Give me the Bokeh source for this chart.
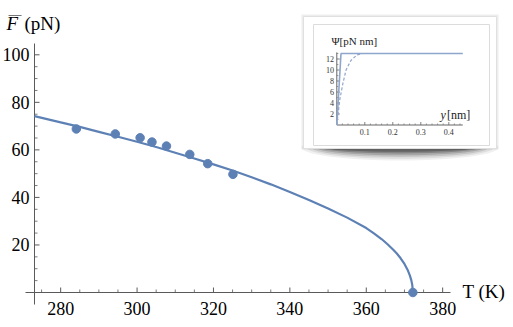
from bokeh.plotting import figure
from bokeh.models import Range1d
from bokeh.embed import file_html
from bokeh.resources import INLINE
from bokeh.core.properties import value

# ---------------- data ----------------
temps = [284.1, 294.3, 300.8, 303.9, 307.7, 313.8, 318.5, 325.1, 372.2]
forces = [68.8, 66.7, 65.1, 63.3, 61.6, 58.1, 54.2, 49.7, 0.0]

curve_T = [273.15, 280.0, 285.0, 290.0, 295.0, 300.0, 305.0, 310.0, 315.0,
           320.0, 325.0, 330.0, 335.0, 340.0, 345.0, 350.0, 355.0, 360.0,
           362.0, 364.0, 365.5, 367.0, 368.0, 369.0, 370.0, 370.8, 371.4,
           371.8, 372.05, 372.2]
curve_F = [74.2, 71.6, 69.7, 67.6, 65.5, 63.4, 61.2, 58.8, 56.4,
           53.9, 51.3, 48.5, 45.5, 42.3, 38.9, 35.3, 31.5, 27.1,
           24.9, 22.5, 20.4, 18.1, 16.4, 14.4, 12.0, 9.6, 7.2,
           5.1, 3.1, 0.0]

x_ticks = [280, 300, 320, 340, 360, 380]
x_minor = [275, 285, 290, 295, 305, 310, 315, 325, 330, 335, 345, 350, 355,
           365, 370, 375]
y_ticks = [20, 40, 60, 80, 100]
y_minor = [5, 10, 15, 25, 30, 35, 45, 50, 55, 65, 70, 75, 85, 90, 95]

inset_solid_y = [0.0, 0.015, 0.45]
inset_solid_psi = [0.0, 13.0, 13.0]
inset_dash_y = [0.0, 0.011, 0.022, 0.033, 0.05, 0.072, 0.094, 0.12]
inset_dash_psi = [0.0, 4.7, 7.6, 10.0, 11.7, 12.75, 13.0, 13.0]
inset_x_ticks = [0.1, 0.2, 0.3, 0.4]
inset_x_minor = [0.02, 0.04, 0.06, 0.08, 0.12, 0.14, 0.16, 0.18, 0.22, 0.24,
                 0.26, 0.28, 0.32, 0.34, 0.36, 0.38, 0.42, 0.44]
inset_y_ticks = [2, 4, 6, 8, 10, 12]
inset_y_minor = [1, 3, 5, 7, 9, 11, 13]

# ---------------- layout constants (pixels) ----------------
W, H = 512, 326
AXL, AXB = 34, 292          # pixel position of the main axes origin
KX, KY = 3.82, 2.377        # px per K, px per pN
T0 = 273.15
IX0, IKX, IY0, IKY = 336.3, 280.0, 124.5, 5.5   # inset mapping

BLUE = "#5E81B5"
INSET_BLUE = "#8FA6CC"
AX = "#5a5a5a"
SERIF = "Liberation Serif"


def mx(px):
    return T0 + (px - AXL) / KX


def my(py):
    return (AXB - py) / KY


def ix(px):
    return (px - IX0) / IKX


def iy(py):
    return (IY0 - py) / IKY


p = figure(width=W, height=H,
           x_range=Range1d(mx(0), mx(W)), y_range=Range1d(my(H), my(0)),
           x_axis_location=None, y_axis_location=None,
           output_backend="svg", toolbar_location=None,
           min_border_left=0, min_border_right=0,
           min_border_top=0, min_border_bottom=0)
p.extra_x_ranges = {"ix": Range1d(ix(0), ix(W))}
p.extra_y_ranges = {"iy": Range1d(iy(H), iy(0))}
p.outline_line_color = None
p.xgrid.visible = False
p.ygrid.visible = False
p.background_fill_color = "white"
p.border_fill_color = "white"

# ---------------- main axes (Mathematica style, crossing at origin) ----------
p.segment(x0=[mx(25), T0], y0=[0, my(304)], x1=[mx(450), T0], y1=[0, my(43)],
          line_color=AX, line_width=1)
p.segment(x0=x_ticks, y0=[0] * len(x_ticks), x1=x_ticks,
          y1=[5 / KY] * len(x_ticks), line_color=AX, line_width=1)
p.segment(x0=x_minor, y0=[0] * len(x_minor), x1=x_minor,
          y1=[3 / KY] * len(x_minor), line_color=AX, line_width=0.8)
p.segment(x0=[T0] * len(y_ticks), y0=y_ticks, x1=[T0 + 5 / KX] * len(y_ticks),
          y1=y_ticks, line_color=AX, line_width=1)
p.segment(x0=[T0] * len(y_minor), y0=y_minor, x1=[T0 + 3 / KX] * len(y_minor),
          y1=y_minor, line_color=AX, line_width=0.8)
p.text(x=x_ticks, y=[my(308)] * len(x_ticks), text=[str(t) for t in x_ticks],
       text_align="center", text_baseline="middle", text_font=value(SERIF),
       text_font_size="18px", text_color="black")
p.text(x=[mx(29)] * len(y_ticks), y=y_ticks, text=[str(t) for t in y_ticks],
       text_align="right", text_baseline="middle", text_font=value(SERIF),
       text_font_size="18px", text_color="black")

# axis labels
p.text(x=[mx(462)], y=[my(291)], text=["T (K)"], text_align="left",
       text_baseline="middle", text_font=value(SERIF),
       text_font_size="19px", text_color="black")
p.text(x=[mx(6)], y=[my(23)], text=["F"], text_align="left",
       text_baseline="middle", text_font=value(SERIF),
       text_font_style="italic", text_font_size="19px", text_color="black")
p.text(x=[mx(8)], y=[my(13)], text=["\u2014"], text_align="left",
       text_baseline="middle", text_font=value(SERIF),
       text_font_size="13px", text_color="black")
p.text(x=[mx(24)], y=[my(23)], text=["(pN)"], text_align="left",
       text_baseline="middle", text_font=value(SERIF),
       text_font_size="19px", text_color="black")

# ---------------- inset box ----------------
R = dict(x_range_name="ix", y_range_name="iy")
bx0, bx1, by0, by1 = 303, 496, 16, 148
for k, a in enumerate([0.06, 0.08, 0.11, 0.15, 0.2, 0.25]):
    p.ellipse(x=[ix((bx0 + bx1) / 2)], y=[iy(by1 - 1)],
              width=[(bx1 - bx0 + 4 - 10 * k) / IKX],
              height=[(26 - 3.5 * k) / IKY],
              fill_color="black", fill_alpha=a, line_color=None, **R)
p.quad(left=[ix(bx0 - 2)], right=[ix(bx1 + 2)], top=[iy(by0 - 2)],
       bottom=[iy(by1 + 1)], fill_color="black", fill_alpha=0.07,
       line_color=None, **R)
p.quad(left=[ix(bx0)], right=[ix(bx1)], top=[iy(by0)], bottom=[iy(by1)],
       fill_color="white", line_color="#e0e0e0", line_width=1, **R)
p.quad(left=[ix(313)], right=[ix(489)], top=[iy(24)], bottom=[iy(145)],
       fill_color="white", line_color="#dcdcdc", line_width=1, **R)

# inset axes
IAX = "#666666"
p.segment(x0=[0, 0], y0=[0, 0], x1=[max(inset_solid_y), 0], y1=[0, 13.2],
          line_color=IAX, line_width=1, **R)
p.segment(x0=inset_x_ticks, y0=[0] * len(inset_x_ticks), x1=inset_x_ticks,
          y1=[3 / IKY] * len(inset_x_ticks), line_color=IAX,
          line_width=0.8, **R)
p.segment(x0=inset_x_minor, y0=[0] * len(inset_x_minor), x1=inset_x_minor,
          y1=[1.6 / IKY] * len(inset_x_minor), line_color=IAX,
          line_width=0.6, **R)
p.segment(x0=[0] * len(inset_y_ticks), y0=inset_y_ticks,
          x1=[3 / IKX] * len(inset_y_ticks), y1=inset_y_ticks,
          line_color=IAX, line_width=0.8, **R)
p.segment(x0=[0] * len(inset_y_minor), y0=inset_y_minor,
          x1=[1.6 / IKX] * len(inset_y_minor), y1=inset_y_minor,
          line_color=IAX, line_width=0.6, **R)
p.text(x=inset_x_ticks, y=[iy(131.5)] * len(inset_x_ticks),
       text=[f"{t:.1f}" for t in inset_x_ticks], text_align="center",
       text_baseline="middle", text_font=value(SERIF),
       text_font_size="8px", text_color="#333333", **R)
p.text(x=[ix(333.5)] * len(inset_y_ticks), y=inset_y_ticks,
       text=[str(t) for t in inset_y_ticks], text_align="right",
       text_baseline="middle", text_font=value(SERIF),
       text_font_size="8px", text_color="#333333", **R)
p.text(x=[ix(331)], y=[iy(40.5)], text=["\u03a8[pN nm]"], text_align="left",
       text_baseline="middle", text_font=value(SERIF),
       text_font_size="11px", text_color="#222222", **R)
p.text(x=[ix(440)], y=[iy(114)], text=["y"], text_align="left",
       text_baseline="middle", text_font=value(SERIF),
       text_font_style="italic", text_font_size="12px",
       text_color="#222222", **R)
p.text(x=[ix(446.5)], y=[iy(114)], text=["[nm]"], text_align="left",
       text_baseline="middle", text_font=value(SERIF),
       text_font_size="12px", text_color="#222222", **R)

# inset curves
p.line(inset_solid_y, inset_solid_psi, line_color=INSET_BLUE, line_width=1.6,
       **R)
p.line(inset_dash_y, inset_dash_psi, line_color=INSET_BLUE, line_width=1.2,
       line_dash="3 2", **R)

# ---------------- main data ----------------
p.line(curve_T, curve_F, line_color=BLUE, line_width=2.2)
p.scatter(temps, forces, size=8.5, fill_color=BLUE, line_color=BLUE)

open("out.html", "w").write(file_html(p, INLINE))
